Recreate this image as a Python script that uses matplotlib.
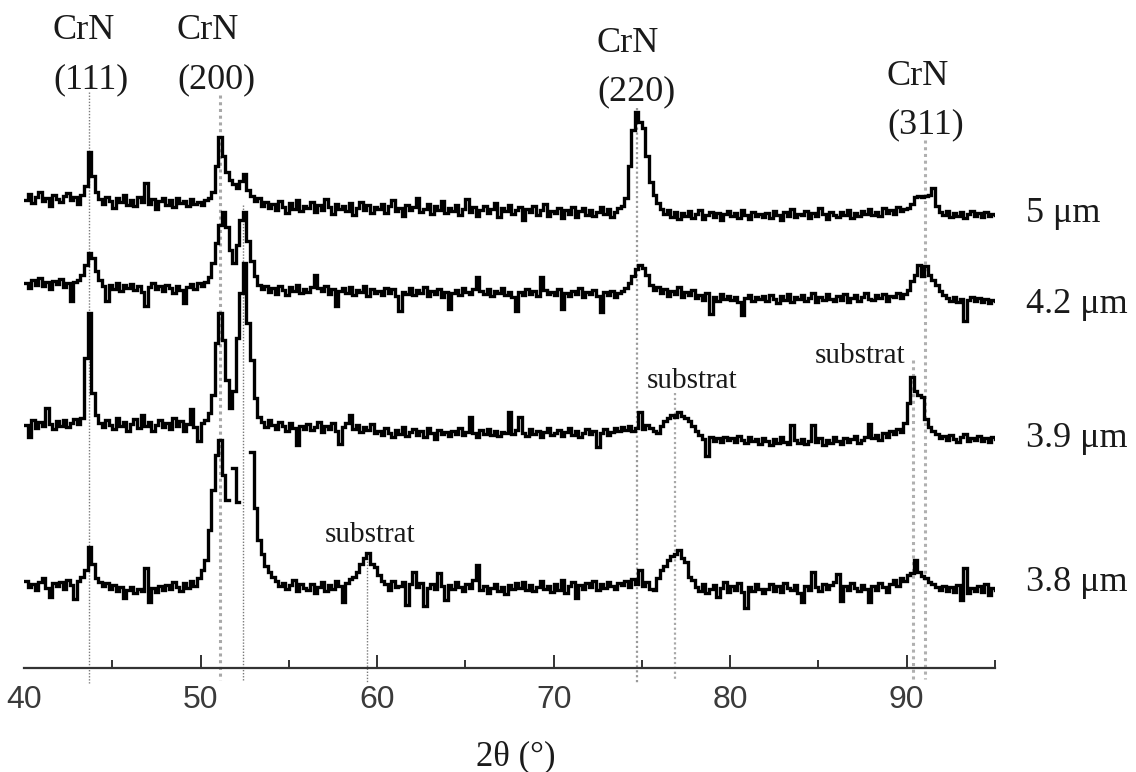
import numpy as np
import matplotlib
matplotlib.use("Agg")
import matplotlib.pyplot as plt

# ---------------- data (2theta in degrees, intensity in arbitrary units) ----------------
two_theta = np.round(np.arange(40.0, 95.0001, 0.2), 2)

int_5um = [
    28, 34, 25, 31, 36, 27, 30, 22, 33, 29,
    26, 32, 35, 28, 31, 24, 33, 42, 76, 52,
    36, 29, 24, 31, 27, 20, 30, 26, 33, 23,
    28, 22, 31, 26, 45, 24, 29, 19, 27, 30,
    23, 28, 21, 30, 25, 27, 22, 29, 24, 26,
    23, 28, 30, 36, 62, 91, 72, 56, 48, 44,
    40, 47, 54, 38, 32, 27, 30, 22, 26, 20,
    24, 18, 27, 21, 15, 25, 19, 28, 17, 22,
    20, 26, 16, 23, 18, 29, 21, 14, 24, 19,
    22, 17, 25, 13, 20, 26, 18, 23, 15, 21,
    19, 24, 15, 22, 28, 17, 20, 12, 23, 18,
    21, 30, 16, 19, 24, 14, 22, 18, 27, 15,
    20, 17, 23, 13, 19, 29, 16, 21, 12, 18,
    22, 15, 19, 25, 11, 20, 17, 23, 14, 18,
    21, 8, 19, 16, 22, 13, 18, 24, 12, 17,
    15, 20, 10, 18, 14, 21, 11, 17, 20, 13,
    18, 12, 16, 21, 14, 19, 11, 16, 20, 22,
    30, 62, 98, 116, 106, 100, 72, 46, 33, 25,
    19, 14, 18, 11, 16, 9, 15, 12, 17, 10,
    14, 18, 9, 13, 16, 11, 15, 8, 14, 17,
    12, 15, 10, 18, 13, 9, 16, 12, 14, 11,
    15, 10, 17, 13, 8, 16, 12, 19, 11, 14,
    13, 17, 10, 15, 12, 20, 14, 9, 16, 13,
    11, 16, 13, 18, 10, 15, 12, 17, 14, 19,
    13, 16, 12, 20, 15, 18, 14, 21, 17, 19,
    20, 24, 31, 32, 31, 32, 33, 40, 22, 16,
    13, 17, 11, 15, 12, 16, 10, 14, 17, 12,
    15, 11, 16, 12, 14, 13,
]

int_4_2um = [
    30, 25, 33, 28, 35, 27, 31, 24, 32, 29,
    34, 26, 30, 12, 31, 33, 38, 48, 60, 55,
    42, 33, 27, 12, 28, 24, 30, 22, 28, 25,
    29, 23, 27, 21, 7, 26, 30, 24, 27, 22,
    28, 25, 20, 27, 23, 10, 26, 29, 24, 30,
    27, 31, 36, 50, 70, 88, 101, 86, 63, 50,
    68, 93, 101, 72, 52, 37, 28, 24, 27, 21,
    25, 19, 27, 23, 18, 26, 22, 28, 20, 24,
    21, 26, 38, 25, 22, 27, 19, 24, 7, 22,
    25, 20, 26, 18, 23, 21, 27, 17, 24, 20,
    22, 18, 25, 20, 24, 17, 2, 21, 19, 25,
    18, 23, 20, 26, 17, 22, 19, 24, 16, 21,
    4, 20, 23, 18, 25, 21, 19, 24, 36, 22,
    19, 24, 17, 22, 20, 25, 18, 21, 16, 2,
    21, 18, 24, 19, 22, 17, 36, 23, 19, 21,
    18, 24, 4, 20, 17, 22, 19, 25, 16, 21,
    19, 23, 17, 1, 21, 18, 22, 16, 20, 22,
    25, 30, 37, 44, 48, 45, 38, 28, 23, 26,
    20, 24, 17, 22, 19, 26, 16, 21, 18, 23,
    15, 18, 13, 20, -1, 16, 12, 19, 14, 17,
    13, 16, 11, -2, 15, 18, 12, 16, 14, 17,
    12, 18, 14, 10, 17, 13, 19, 11, 16, 14,
    18, 12, 15, 20, 11, 16, 13, 19, 14, 12,
    17, 13, 19, 11, 15, 18, 12, 16, 20, 14,
    13, 18, 15, 19, 12, 17, 16, 20, 15, 19,
    23, 32, 38, 48, 37, 47, 38, 33, 28, 22,
    18, 15, 12, 16, 11, 14, -8, 13, 16, 12,
    15, 11, 14, 10, 13, 12,
]

int_3_9um = [
    28, 16, 33, 25, 31, 27, 45, 29, 24, 32,
    27, 33, 26, 30, 34, 29, 35, 95, 140, 60,
    38, 30, 26, 33, 28, 24, 35, 27, 31, 22,
    29, 34, 25, 38, 27, 31, 22, 28, 33, 26,
    30, 24, 35, 27, 32, 22, 29, 44, 26, 12,
    30, 33, 40, 58, 110, 140, 113, 73, 45, 62,
    115, 160, 190, 130, 93, 55, 36, 31, 26, 33,
    28, 24, 31, 27, 22, 30, 25, 8, 27, 24,
    29, 23, 26, 31, 21, 27, 24, 30, 22, 9,
    26, 30, 38, 24, 28, 21, 26, 23, 29, 20,
    22, 18, 25, 20, 16, 23, 19, 26, 17, 21,
    24, 18, 22, 16, 25, 20, 14, 23, 19, 21,
    17, 22, 19, 25, 18, 21, 36, 20, 16, 23,
    19, 24, 18, 22, 17, 21, 20, 41, 19, 23,
    36, 20, 17, 24, 19, 22, 16, 21, 25, 18,
    20, 23, 17, 21, 25, 18, 22, 16, 20, 24,
    19, 22, 6, 20, 24, 18, 21, 25, 22, 26,
    23, 27, 22, 25, 41, 24, 28, 25, 22, 20,
    27, 32, 35, 38, 36, 41, 37, 35, 32, 27,
    22, 18, 14, -3, 16, 12, 15, 11, 16, 13,
    15, 11, 17, 13, 10, 16, 12, 14, 9, 15,
    12, 8, 14, 10, 16, 11, 9, 28, 13, 10,
    14, 9, 12, 28, 11, 15, 8, 13, 10, 16,
    12, 9, 15, 11, 14, 17, 10, 13, 16, 29,
    15, 18, 13, 20, 16, 22, 19, 24, 21, 30,
    50, 76, 62, 58, 56, 34, 26, 22, 19, 15,
    17, 13, 18, 14, 11, 16, 19, 12, 15, 13,
    17, 12, 15, 11, 16, 14,
]

nan = np.nan
int_3_8um = [
    27, 21, 24, 18, 26, 30, 20, 11, 25, 22,
    26, 19, 28, 23, 9, 27, 31, 38, 61, 44,
    30, 26, 22, 25, 19, 23, 17, 21, 10, 18,
    21, 15, 19, 17, 40, 6, 20, 16, 22, 18,
    23, 19, 26, 21, 17, 25, 20, 27, 22, 30,
    38, 48, 78, 118, 153, 168, 133, 108, nan, 140,
    106, nan, nan, nan, 156, 100, 68, 54, 42, 36,
    31, 27, 22, 25, 19, 23, 28, 17, 24, 20,
    18, 24, 15, 21, 26, 17, 23, 19, 27, 22,
    6, 25, 29, 31, 36, 44, 50, 55, 44, 41,
    33, 27, 24, 18, 27, 21, 22, 26, 3, 24,
    36, 21, 25, 2, 20, 24, 19, 35, 22, 8,
    23, 19, 26, 21, 17, 24, 20, 28, 43, 18,
    22, 15, 20, 24, 17, 21, 14, 23, 19, 25,
    20, 26, 18, 23, 17, 21, 27, 19, 22, 16,
    24, 18, 28, 15, 22, 26, 10, 23, 19, 25,
    21, 27, 18, 24, 20, 26, 22, 19, 25, 23,
    27, 21, 29, 24, 38, 22, 26, 19, 18, 30,
    38, 42, 48, 52, 54, 58, 50, 46, 31, 28,
    21, 17, 24, 15, 19, 23, 11, 20, 26, 16,
    22, 18, 25, 16, 0, 21, 17, 24, 19, 15,
    19, 24, 17, 22, 16, 25, 20, 18, 23, 15,
    6, 22, 18, 36, 21, 17, 24, 19, 23, 26,
    34, 7, 22, 18, 25, 20, 17, 23, 19, 6,
    22, 18, 25, 21, 16, 24, 28, 22, 30, 27,
    33, 35, 48, 36, 32, 30, 26, 24, 21, 18,
    22, 17, 21, 16, 23, 8, 40, 15, 20, 17,
    22, 16, 24, 13, 20, 18,
]

sample_labels = ["5 \u03bcm", "4.2 \u03bcm", "3.9 \u03bcm", "3.8 \u03bcm"]
peak_labels = [("CrN", "(111)"), ("CrN", "(200)"), ("CrN", "(220)"), ("CrN", "(311)")]
ref_positions = [43.7, 51.1, 52.4, 59.43, 74.73, 76.88, 90.37, 91.05]
substrate_label = "substrat"

# ---------------- layout ----------------
W, H = 1136, 772
fig = plt.figure(figsize=(W / 100, H / 100), dpi=100)
ax = fig.add_axes([24 / W, 104 / H, 971 / W, 668 / H])
ax.set_xlim(40, 95)
ax.set_ylim(0, 668)

series = [int_5um, int_4_2um, int_3_9um, int_3_8um]
offsets = [440, 355, 215, 60]
for vals, off in zip(series, offsets):
    y = np.asarray(vals, dtype=float) + off
    ax.plot(two_theta, y, color="black", lw=2.4, drawstyle="steps-post",
            solid_joinstyle="miter", zorder=3)

# dotted reference lines (top / bottom in pixel rows of the figure)
ref_tops = [92, 95, 205, 555, 108, 393, 360, 140]
ref_bottoms = [683, 680, 680, 683, 683, 680, 679, 679]
ref_styles = [("#7a7a7a", 1.0), ("#a8a8a8", 2.2), ("#7a7a7a", 1.0), ("#7a7a7a", 1.0),
              ("#9a9a9a", 1.6), ("#a8a8a8", 1.6), ("#b0b0b0", 2.2), ("#b0b0b0", 2.2)]
for xp, t, b, (c, lw) in zip(ref_positions, ref_tops, ref_bottoms, ref_styles):
    ax.plot([xp, xp], [668 - t, 668 - b], color=c, lw=lw, ls=(0, (1, 1.2)),
            clip_on=False, zorder=1)

# axes styling
for s in ["left", "right", "top"]:
    ax.spines[s].set_visible(False)
ax.spines["bottom"].set_color("#333333")
ax.spines["bottom"].set_linewidth(1.6)
ax.set_yticks([])
ax.set_xticks([40, 50, 60, 70, 80, 90])
ax.set_xticks([45, 55, 65, 75, 85, 95], minor=True)
ax.tick_params(axis="x", which="major", direction="in", length=9.5, width=1.4,
               color="#333333", pad=12, labelsize=23, labelcolor="#3a3a3a")
ax.tick_params(axis="x", which="minor", direction="in", length=6, width=1.4,
               color="#333333")
ax.xaxis.get_major_ticks()[0].tick1line.set_visible(False)
for lab in ax.get_xticklabels():
    lab.set_fontfamily("Liberation Sans")

serif = "Liberation Serif"


def ftext(px, py, s, size, ha="left", va="baseline", color="#1a1a1a"):
    fig.text(px / W, 1 - py / H, s, fontsize=size, family=serif, ha=ha, va=va,
             color=color)


# peak labels
label_pos = [(53, 39, 88), (177, 39, 88), (597, 52, 100), (887, 85, 133)]
for (top, bottom), (lx, y1, y2) in zip(peak_labels, label_pos):
    ftext(lx, y1, top, 26)
    ftext(lx, y2, bottom, 26)

# substrate labels
for lx, by in [(647, 388), (815, 363), (325, 542)]:
    ftext(lx, by, substrate_label, 21)

# sample labels at right
for s, by in zip(sample_labels, [222, 313, 447, 591]):
    ftext(1026, by, s, 26)

# x axis label
ftext(516, 765, "2\u03b8 (\u00b0)", 25, ha="center")

fig.savefig("out.png", dpi=100, facecolor="white")
